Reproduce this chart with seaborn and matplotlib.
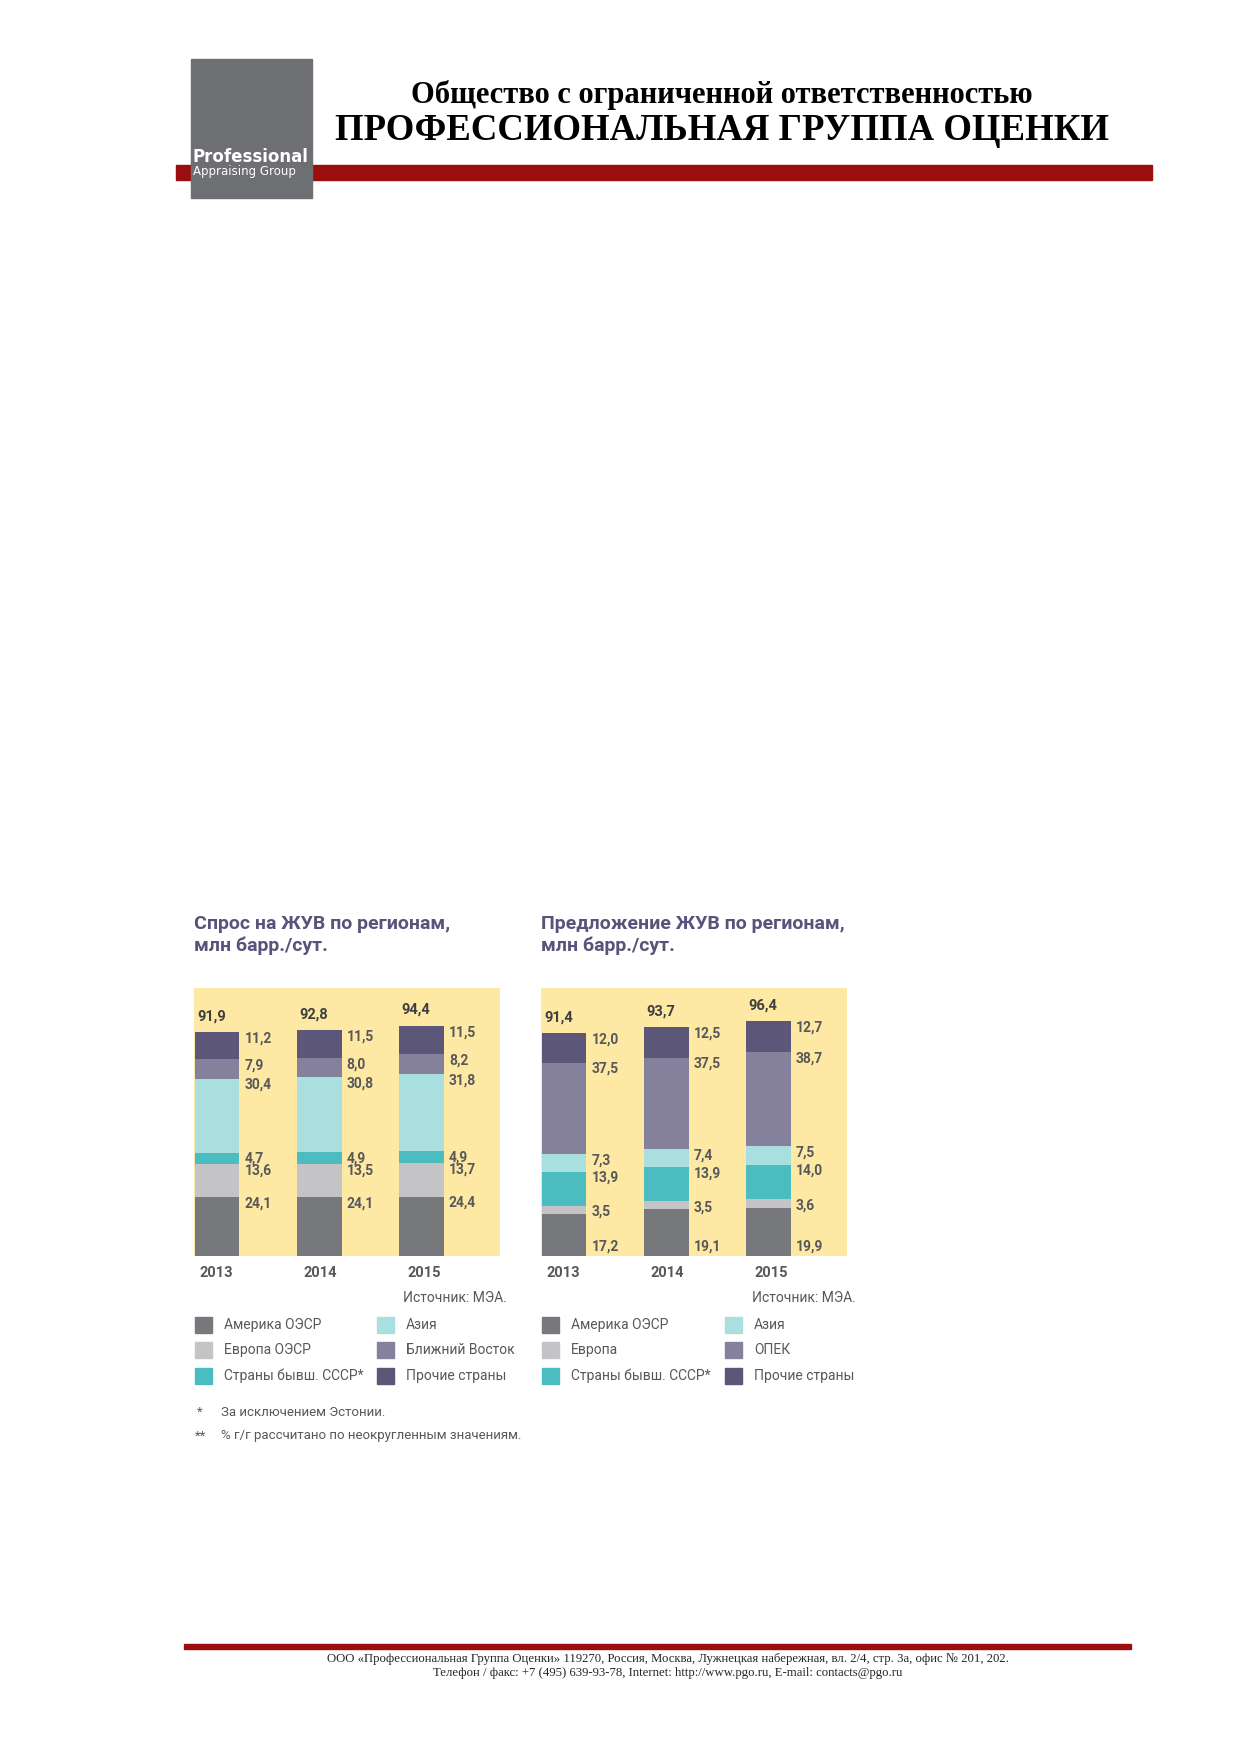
import matplotlib
matplotlib.use("Agg")
import matplotlib.pyplot as plt
from matplotlib.patches import Rectangle
import seaborn as sns
import pandas as pd
import numpy as np

sns.set_theme(style="white")
plt.rcParams['font.family'] = ['Roboto', 'DejaVu Sans']

years = ["2013", "2014", "2015"]
demand_cats = ["Америка ОЭСР", "Европа ОЭСР", "Страны бывш. СССР*", "Азия", "Ближний Восток", "Прочие страны"]
demand_vals = [[24.1, 24.1, 24.4], [13.6, 13.5, 13.7], [4.7, 4.9, 4.9],
               [30.4, 30.8, 31.8], [7.9, 8.0, 8.2], [11.2, 11.5, 11.5]]
demand_tot = ["91,9", "92,8", "94,4"]
supply_cats = ["Америка ОЭСР", "Европа", "Страны бывш. СССР*", "Азия", "ОПЕК", "Прочие страны"]
supply_vals = [[17.2, 19.1, 19.9], [3.5, 3.5, 3.6], [13.9, 13.9, 14.0],
               [7.3, 7.4, 7.5], [37.5, 37.5, 38.7], [12.0, 12.5, 12.7]]
supply_tot = ["91,4", "93,7", "96,4"]
colors = ["#77787b", "#c4c4c6", "#4bbcbf", "#a9dfdf", "#85809c", "#5c5779"]

W, H = 1239, 1754
fig = plt.figure(figsize=(W/100, H/100), dpi=100)

def fx(x): return x / W
def fy(y): return 1 - y / H

# Header
fig.patches.append(Rectangle((fx(176), fy(180)), fx(1152) - fx(176), fy(165) - fy(180),
                             transform=fig.transFigure, color="#9b0e10", zorder=1))
fig.patches.append(Rectangle((fx(191), fy(198)), fx(312) - fx(191), fy(59) - fy(198),
                             transform=fig.transFigure, color="#6e6f72", zorder=2))
fig.text(fx(193), fy(157), "Professional", color="white", fontsize=12, fontweight="bold",
         va="center", ha="left", family=["DejaVu Sans"], zorder=3)
fig.text(fx(193), fy(172), "Appraising Group", color="white", fontsize=8.5,
         va="center", ha="left", family=["DejaVu Sans"], zorder=3)
fig.text(fx(722), fy(95), "Общество с ограниченной ответственностью", fontsize=22, fontweight="bold",
         ha="center", va="center", family=["Liberation Serif"], color="black")
fig.text(fx(722), fy(131), "ПРОФЕССИОНАЛЬНАЯ ГРУППА ОЦЕНКИ", fontsize=26.5, fontweight="bold",
         ha="center", va="center", family=["Liberation Serif"], color="black")

# Footer
fig.patches.append(Rectangle((fx(184), fy(1649)), fx(1131) - fx(184), fy(1644) - fy(1649),
                             transform=fig.transFigure, color="#9b0e10"))
fig.text(fx(668), fy(1659), "ООО «Профессиональная Группа Оценки» 119270, Россия, Москва, Лужнецкая набережная, вл. 2/4, стр. 3а, офис № 201, 202.",
         fontsize=9.2, ha="center", va="center", family=["Liberation Serif"])
fig.text(fx(668), fy(1673), "Телефон / факс: +7 (495) 639-93-78, Internet: http://www.pgo.ru, E-mail: contacts@pgo.ru",
         fontsize=9.2, ha="center", va="center", family=["Liberation Serif"])

title_c = "#57537a"
txt_c = "#58585a"

def panel(x0, title, cats, vals, tots, src_x, leg_x):
    ax = fig.add_axes([fx(x0), fy(1256), fx(x0 + 306) - fx(x0), fy(988) - fy(1256)])
    ax.set_facecolor("#fde9a3")
    arr = np.array(vals)
    cum = np.cumsum(arr, axis=0)
    for i in range(len(cats) - 1, -1, -1):
        df = pd.DataFrame({"year": years, "v": cum[i]})
        sns.barplot(data=df, x="year", y="v", color=colors[i], width=0.44,
                    saturation=1, ax=ax, linewidth=0)
    for j in range(3):
        for i in range(len(cats)):
            top = cum[i, j]
            y = top - 2.6
            if i == 0 and arr[0, j] < 20 and arr[1, j] < 5:
                y = 4
            ax.text(j + 0.27, y, f"{arr[i, j]:.1f}".replace(".", ","), fontsize=10,
                    color=txt_c, va="center", ha="left", fontweight="bold")
        ax.text(j - 0.05, cum[-1, j] + 6.5, tots[j], fontsize=10.5, fontweight="bold",
                color="#3e3e40", ha="center", va="center")
    ax.set_xlim(-0.225, 2.77)
    ax.set_ylim(0, 110)
    ax.set_xticks([]); ax.set_yticks([])
    ax.set_xlabel(""); ax.set_ylabel("")
    for s in ax.spines.values():
        s.set_visible(False)
    fig.text(fx(x0), fy(924), title[0], fontsize=14, fontweight="bold", color=title_c, va="center")
    fig.text(fx(x0), fy(946), title[1], fontsize=14, fontweight="bold", color=title_c, va="center")
    for j, xx in enumerate([22, 126, 230]):
        fig.text(fx(x0 + xx), fy(1273), years[j], fontsize=10.5, fontweight="bold",
                 color=txt_c, ha="center", va="center")
    fig.text(fx(src_x), fy(1298), "Источник: МЭА.", fontsize=10, color=txt_c, ha="right", va="center")
    rows = [1325, 1350, 1376]
    for i, c in enumerate(cats):
        col, row = divmod(i, 3)
        sx = leg_x[col]
        fig.patches.append(Rectangle((fx(sx), fy(rows[row] + 8)), fx(17), 16 / H,
                                     transform=fig.transFigure, color=colors[i]))
        fig.text(fx(sx + 29), fy(rows[row]), c, fontsize=10, color=txt_c, va="center", ha="left")

panel(194, ["Спрос на ЖУВ по регионам,", "млн барр./сут."], demand_cats, demand_vals,
      demand_tot, 507, [195, 377])
panel(541, ["Предложение ЖУВ по регионам,", "млн барр./сут."], supply_cats, supply_vals,
      supply_tot, 856, [542, 725])

fig.text(fx(197), fy(1412), "*", fontsize=9.5, color=txt_c, va="center")
fig.text(fx(221), fy(1412), "За исключением Эстонии.", fontsize=9.5, color=txt_c, va="center")
fig.text(fx(195), fy(1436), "**", fontsize=9.5, color=txt_c, va="center")
fig.text(fx(221), fy(1436), "% г/г рассчитано по неокругленным значениям.", fontsize=9.5, color=txt_c, va="center")

fig.savefig("out.png", dpi=100, facecolor="white")
